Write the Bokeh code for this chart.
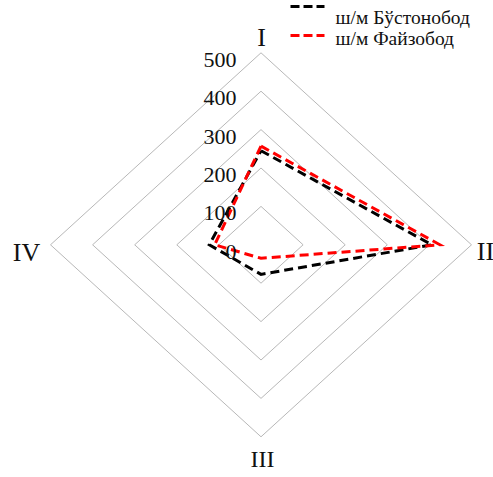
from bokeh.plotting import figure
from bokeh.models import Range1d
from bokeh.core.properties import value
from bokeh.embed import file_html
from bokeh.resources import INLINE
import numpy as np

# ---- data ----
axes_labels = ["I", "II", "III", "IV"]
levels = [0, 100, 200, 300, 400, 500]
level_labels = ["0", "100", "200", "300", "400", "500"]
series_names = ["ш/м Бўстонобод", "ш/м Файзобод"]
bustonobod = [245, 406, 77, 123]
fayzobod = [257, 425, 35, 110]

# ---- layout (page pixel mapping) ----
W, H = 493, 469
OX, OY = 0, 8
CX, CY = 260.5, 252.3          # page px of the centre
SX, SY = 0.421, 0.384           # px per unit
def X(px):
    return (px - CX) / SX
def Y(py):
    return (CY - py) / SY

p = figure(width=W, height=H, output_backend="svg", toolbar_location=None,
           x_range=Range1d(X(OX), X(OX + W)), y_range=Range1d(Y(OY + H), Y(OY)),
           min_border=0)
p.axis.visible = False
p.grid.visible = False
p.outline_line_color = None
p.background_fill_color = "white"

theta = np.deg2rad([0, 90, 180, 270])
sx, sy = np.sin(theta), np.cos(theta)

FONT = value("Liberation Serif")

# grid diamonds
for lv in levels[1:]:
    xs = list(lv * sx) + [lv * sx[0]]
    ys = list(lv * sy) + [lv * sy[0]]
    p.line(xs, ys, line_color="#b8b8b8", line_width=1)

# series
for vals, col in [(bustonobod, "black"), (fayzobod, "#ff0000")]:
    v = np.array(vals, dtype=float)
    xs = list(v * sx) + [v[0] * sx[0]]
    ys = list(v * sy) + [v[0] * sy[0]]
    p.line(xs, ys, line_color=col, line_width=3, line_dash="9 5", line_join="miter")

# value labels
p.text(x=[X(236)] * len(levels), y=[lv - 7 / SY for lv in levels], text=level_labels,
       text_font=FONT, text_font_size=value("22px"), text_color="#111111",
       text_align="right", text_baseline="alphabetic")

# axis labels
ax_x = [X(261), X(485), X(262), X(26)]
ax_y = [Y(45), Y(259), Y(466), Y(260)]
ax_size = ["26px", "26px", "24px", "26px"]
for i in range(4):
    p.text(x=[ax_x[i]], y=[ax_y[i]], text=[axes_labels[i]], text_font=FONT,
           text_font_size=value(ax_size[i]), text_color="#111111",
           text_align="center", text_baseline="alphabetic")

# legend
leg_cols = ["black", "#ff0000"]
leg_line_y = [14, 43]
leg_text_y = [25, 46]
for i in range(2):
    p.line([X(290), X(324)], [Y(leg_line_y[i])] * 2, line_color=leg_cols[i],
           line_width=3, line_dash="9 4")
    p.text(x=[X(335)], y=[Y(leg_text_y[i])], text=[series_names[i]], text_font=FONT,
           text_font_size=value("19.5px"), text_color="#111111",
           text_align="left", text_baseline="alphabetic")

open("out.html", "w").write(file_html(p, INLINE))
